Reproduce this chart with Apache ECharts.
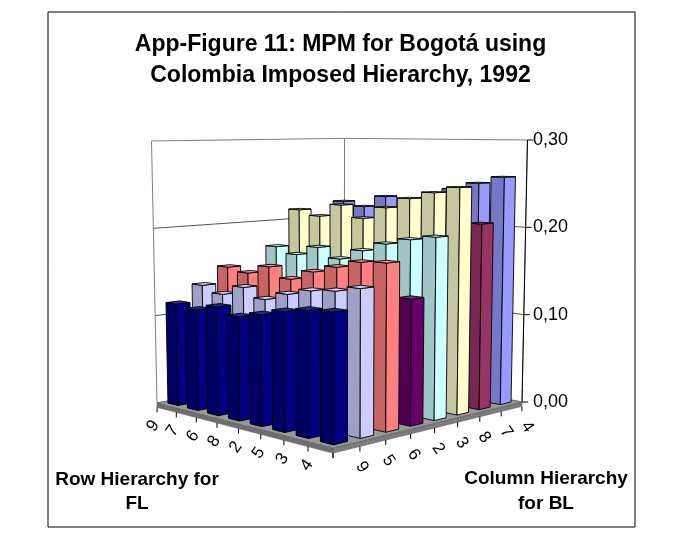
<!DOCTYPE html>
<html>
<head>
<meta charset="utf-8">
<title>App-Figure 11: MPM for Bogotá</title>
<script src="https://cdn.jsdelivr.net/npm/echarts@6/dist/echarts.min.js"></script>
<style>
  html, body { margin: 0; padding: 0; background: #fff; }
  #chart { width: 673px; height: 552px; }
</style>
</head>
<body>
<div id="chart"></div>
<script>
// Row hierarchy for FL (left floor axis, back to front)
var rowLabels = ['9', '7', '6', '8', '2', '5', '3', '4'];
// Column hierarchy for BL (right floor axis, front to back)
var colLabels = ['9', '5', '6', '2', '3', '8', '7', '4'];
var valueTicks = [0, 0.1, 0.2, 0.3];

// MPM values, one array per BL column, in rowLabels order
var bl9 = [0.115, 0.112, 0.119, 0.112, 0.118, 0.125, 0.130, 0.132];
var bl5 = [0.133, 0.126, 0.137, 0.127, 0.136, 0.143, 0.146, 0.152];
var bl6 = [0.151, 0.147, 0.157, 0.146, 0.157, 0.165, 0.173, 0.175];
var bl2 = [0.117, 0.114, 0.121, 0.114, 0.120, 0.127, 0.131, 0.134];
var bl3 = [0.170, 0.163, 0.174, 0.163, 0.175, 0.185, 0.192, 0.197];
var bl8 = [0.213, 0.207, 0.222, 0.208, 0.222, 0.234, 0.242, 0.249];
var bl7 = [0.172, 0.166, 0.181, 0.167, 0.181, 0.193, 0.202, 0.207];
var bl4 = [0.220, 0.215, 0.229, 0.213, 0.230, 0.242, 0.250, 0.258];

var colSeries = [bl9, bl5, bl6, bl2, bl3, bl8, bl7, bl4];
var colColors = ['#000080', '#ccccff', '#ff8080', '#660066', '#ccffff', '#ffffcc', '#993366', '#9999ff'];

var FONT = '"Liberation Sans", Arial, sans-serif';
var VMAX = 0.3;
var BAR = 0.52;      // bar footprint, share of a cell
var SLAB = 0.005;    // floor thickness, in value units

// floor perspective: unit square (u = row, w = column) -> screen
var P = { a: 129.4, b: 235.6, c: 157, d: -17.7, e: 16.7, f: 403, g: -0.14, h: 0.14, cx: 340, lean: 0.1 };

function proj(u, w, v, unit) {
    var D = 1 + P.g * u + P.h * w;
    var xf = (P.a * u + P.b * w + P.c) / D;
    var yf = (P.d * u + P.e * w + P.f) / D;
    return [xf + (xf - P.cx) * P.lean * v, yf - v * unit / D];
}

function axisUnit(api) {
    return (api.coord([0, 0])[1] - api.coord([0, VMAX])[1]) / VMAX;
}

function mix(hex, k, toWhite) {
    var n = parseInt(hex.slice(1), 16);
    var rgb = [(n >> 16) & 255, (n >> 8) & 255, n & 255].map(function (x) {
        return Math.round(toWhite ? x + (255 - x) * k : x * k);
    });
    return 'rgb(' + rgb.join(',') + ')';
}

function poly(pts, fill, stroke, lw) {
    return { type: 'polygon', shape: { points: pts }, style: { fill: fill, stroke: stroke || '#000', lineWidth: lw || 0.9 } };
}

function line(p1, p2, stroke, lw) {
    return { type: 'line', shape: { x1: p1[0], y1: p1[1], x2: p2[0], y2: p2[1] }, style: { stroke: stroke, lineWidth: lw || 1 } };
}

function label(txt, x, y, rot, size) {
    return {
        type: 'text', x: x, y: y, rotation: rot * Math.PI / 180,
        style: { text: txt, fill: '#000', fontSize: size, fontFamily: FONT, align: 'center', verticalAlign: 'middle' }
    };
}

// walls, floor, gridlines, edge ticks and floor labels
function renderFrame(params, api) {
    var unit = axisUnit(api);
    var p = function (u, w, v) { return proj(u, w, v, unit); };
    var kids = [];
    kids.push(poly([p(0, 0, 0), p(0, 1, 0), p(0, 1, VMAX), p(0, 0, VMAX)], '#fff', '#808080', 1));
    kids.push(poly([p(0, 1, 0), p(1, 1, 0), p(1, 1, VMAX), p(0, 1, VMAX)], '#fff', '#808080', 1));
    valueTicks.forEach(function (v) {
        if (v > 0 && v < VMAX) {
            kids.push(line(p(0, 0, v), p(0, 1, v), '#555', 1));
            kids.push(line(p(0, 1, v), p(1, 1, v), '#555', 1));
        }
        var a = p(1, 1, v);
        kids.push(line(a, [a[0] + 6, a[1]], '#000', 1));
    });
    kids.push(line(p(1, 1, 0), p(1, 1, VMAX), '#000', 1));
    // floor slab + floor
    kids.push(poly([p(0, 0, 0), p(1, 0, 0), p(1, 0, -SLAB), p(0, 0, -SLAB)], '#6e6e6e', '#555', 0.6));
    kids.push(poly([p(1, 0, 0), p(1, 1, 0), p(1, 1, -SLAB), p(1, 0, -SLAB)], '#7c7c7c', '#555', 0.6));
    kids.push(poly([p(0, 0, 0), p(1, 0, 0), p(1, 1, 0), p(0, 1, 0)], '#999', '#666', 0.8));
    for (var i = 0; i <= 8; i++) {
        var t1 = p(i / 8, 0, -SLAB), t2 = p(1, i / 8, -SLAB);
        kids.push(line(t1, [t1[0], t1[1] + 5], '#000', 1));
        kids.push(line(t2, [t2[0], t2[1] + 5], '#000', 1));
    }
    rowLabels.forEach(function (txt, c) {
        var q = p((c + 0.5) / 8, 0, 0);
        kids.push(label(txt, q[0] - 13.5, q[1] + 20.5, 55, 17));
    });
    colLabels.forEach(function (txt, s) {
        var q = p(1, (s + 0.5) / 8, 0);
        kids.push(label(txt, q[0] + 15.5, q[1] + 22.5, -55, 17));
    });
    return { type: 'group', children: kids };
}

function renderBar(params, api) {
    var c = api.value(0), s = api.value(1), v = api.value(2);
    var unit = axisUnit(api);
    var p = function (u, w, z) { return proj(u, w, z, unit); };
    var u = (c + 0.5) / 8, w = (s + 0.5) / 8, d = BAR / 16;
    var u0 = u - d, u1 = u + d, w0 = w - d, w1 = w + d;
    var col = colColors[s];
    return {
        type: 'group',
        children: [
            poly([p(u0, w0, 0), p(u1, w0, 0), p(u1, w0, v), p(u0, w0, v)], mix(col, 0.78)),
            poly([p(u1, w0, 0), p(u1, w1, 0), p(u1, w1, v), p(u1, w0, v)], col),
            poly([p(u0, w0, v), p(u1, w0, v), p(u1, w1, v), p(u0, w1, v)], mix(col, 0.15, true))
        ]
    };
}

// bars, painted from the back (high column, low row) to the front
var barData = [];
colSeries.forEach(function (vals, s) {
    vals.forEach(function (v, c) { barData.push([c, s, v]); });
});
barData.sort(function (m, n) { return (n[1] - n[0]) - (m[1] - m[0]); });

var chart = echarts.init(document.getElementById('chart'));
chart.setOption({
    animation: false,
    backgroundColor: '#fff',
    grid: { left: 0, right: 148, top: 140, bottom: 150 },
    xAxis: { type: 'value', min: 0, max: 7, show: false },
    yAxis: {
        type: 'value', position: 'right', min: 0, max: VMAX, interval: 0.1,
        axisLine: { show: false }, axisTick: { show: false }, splitLine: { show: false },
        axisLabel: {
            margin: 8, fontSize: 18, color: '#000', fontFamily: FONT,
            formatter: function (v) { return v.toFixed(2).replace('.', ','); }
        }
    },
    graphic: [
        { type: 'rect', shape: { x: 48, y: 12, width: 587, height: 515 }, style: { fill: 'none', stroke: '#000', lineWidth: 1 } },
        { type: 'text', x: 340.5, y: 44.5, style: { text: 'App-Figure 11: MPM for Bogotá using', font: 'bold 23px ' + FONT, fill: '#000', align: 'center', verticalAlign: 'middle' } },
        { type: 'text', x: 340.5, y: 76, style: { text: 'Colombia Imposed Hierarchy, 1992', font: 'bold 23px ' + FONT, fill: '#000', align: 'center', verticalAlign: 'middle' } },
        { type: 'text', x: 137, y: 480, style: { text: 'Row Hierarchy for', font: 'bold 19px ' + FONT, fill: '#000', align: 'center', verticalAlign: 'middle' } },
        { type: 'text', x: 137, y: 503.5, style: { text: 'FL', font: 'bold 19px ' + FONT, fill: '#000', align: 'center', verticalAlign: 'middle' } },
        { type: 'text', x: 546, y: 479, style: { text: 'Column Hierarchy', font: 'bold 19px ' + FONT, fill: '#000', align: 'center', verticalAlign: 'middle' } },
        { type: 'text', x: 546, y: 503.5, style: { text: 'for BL', font: 'bold 19px ' + FONT, fill: '#000', align: 'center', verticalAlign: 'middle' } }
    ],
    series: [
        { type: 'custom', name: 'frame', z: 1, silent: true, encode: { x: 0, y: 1 }, data: [[0, 0]], renderItem: renderFrame },
        { type: 'custom', name: 'MPM', z: 2, encode: { x: 0, y: 2 }, data: barData, renderItem: renderBar }
    ]
});
</script>
</body>
</html>
